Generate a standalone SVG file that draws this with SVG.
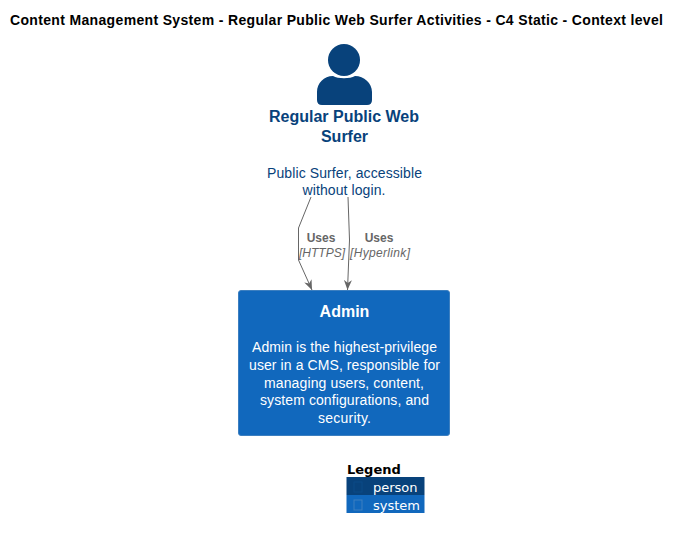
<svg xmlns="http://www.w3.org/2000/svg" width="680" height="538" viewBox="0 0 680 538">
<style>
text{font-family:"Liberation Sans",Arial,sans-serif;text-anchor:middle}
.t{font-size:14px;font-weight:700;fill:#000}
.pn{font-size:16px;font-weight:700;fill:#08427B}
.pd{font-size:14px;fill:#08427B}
.sn{font-size:16px;font-weight:700;fill:#fff}
.sd{font-size:14px;fill:#fff}
.rl{font-size:12px;font-weight:700;fill:#666}
.rt{font-size:12px;font-style:italic;fill:#666}
.lg{font-size:13px;fill:#fff;font-family:"DejaVu Sans",sans-serif;text-anchor:start}
.c{fill:none;stroke:#666;stroke-width:1}
</style>
<defs><marker id="a" markerUnits="userSpaceOnUse" markerWidth="12" markerHeight="12" refX="10" refY="4" orient="auto"><path d="M0 0L10 4L0 8L3 4Z" fill="#666"/></marker></defs>
<rect width="680" height="538" fill="#fff"/>
<text class="t" x="336.500" y="25" textLength="653">Content Management System - Regular Public Web Surfer Activities - C4 Static - Context level</text>
<g id="surfer">
<circle cx="344" cy="60" r="16" fill="#08427B"/>
<path d="M317 100V92C317 83 324 76 333 76C338 79 350 79 355 76C364 76 372 83 372 92V100Q372 105 367 105H322Q317 105 317 100Z" fill="#08427B"/>
<text class="pn" x="344" y="122">Regular Public Web</text>
<text class="pn" x="344.500" y="142">Surfer</text>
<text class="pd" x="344.500" y="178" textLength="155">Public Surfer, accessible</text>
<text class="pd" x="344" y="195" textLength="83">without login.</text>
</g>
<g id="admin">
<rect x="238.500" y="290.500" width="211" height="145" rx="2.500" fill="#1168BD" stroke="#3C7FC0"/>
<text class="sn" x="344.500" y="317">Admin</text>
<text class="sd" x="344.500" y="352" textLength="185">Admin is the highest-privilege</text>
<text class="sd" x="344.500" y="370" textLength="191">user in a CMS, responsible for</text>
<text class="sd" x="344" y="388" textLength="160">managing users, content,</text>
<text class="sd" x="344.500" y="405" textLength="169">system configurations, and</text>
<text class="sd" x="344.500" y="423" textLength="53">security.</text>
</g>
<g id="connectors">
<path class="c" marker-end="url(#a)" d="M311 197L298.500 228V260L312 290"/>
<path class="c" marker-end="url(#a)" d="M348 197L349.500 240L347.500 290"/>
<text class="rl" x="321" y="242">Uses</text>
<text class="rt" x="322" y="257">[HTTPS]</text>
<text class="rl" x="379" y="242">Uses</text>
<text class="rt" x="380" y="257" textLength="60">[Hyperlink]</text>
</g>
<g id="legend">
<text x="347" y="474" style="font-family:'DejaVu Sans',sans-serif;font-size:13px;font-weight:700;text-anchor:start" fill="#000">Legend</text>
<rect x="346.500" y="477" width="78" height="18" fill="#08427B"/>
<rect x="346.500" y="495" width="78" height="18" fill="#1168BD"/>
<rect x="354" y="482" width="8" height="10" fill="none" stroke="#0B4A87"/>
<rect x="354" y="500" width="8" height="10" fill="none" stroke="#3C7FC0"/>
<text class="lg" x="373" y="492">person</text>
<text class="lg" x="373" y="510">system</text>
</g>
</svg>
